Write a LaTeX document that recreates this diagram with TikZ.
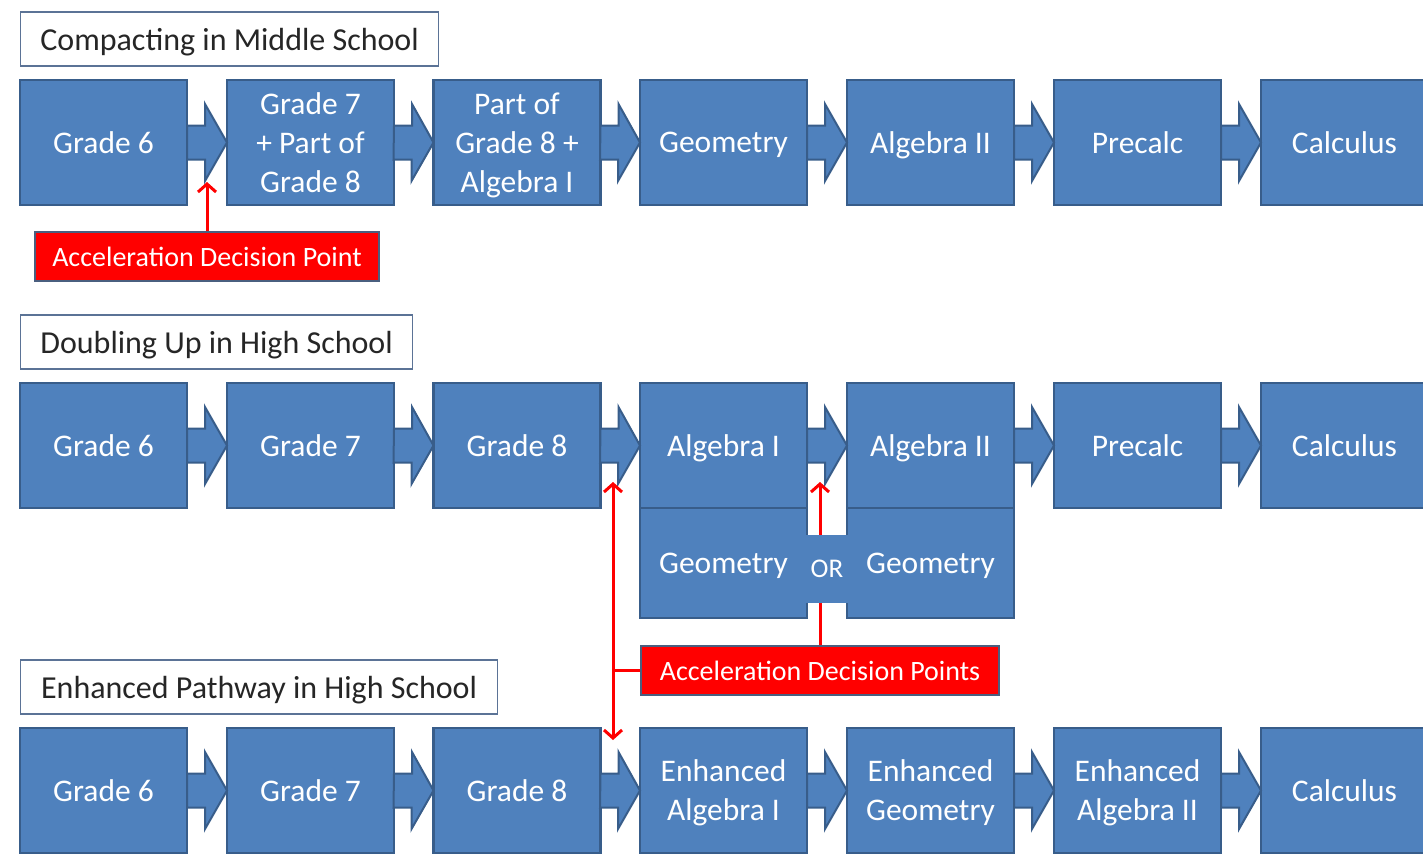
\documentclass[tikz,border=0pt]{standalone}
\usepackage{fontspec}
\setmainfont{Carlito}
\usetikzlibrary{arrows.meta}

\definecolor{coursefill}{HTML}{4F81BD}
\definecolor{courseline}{HTML}{385D8A}
\definecolor{labelline}{HTML}{5B7396}
\definecolor{decisionline}{HTML}{4A5F7F}

\begin{document}
\begin{tikzpicture}[
    x=1pt, y=-1pt,
    course/.style={draw=courseline, fill=coursefill, line width=2.5pt, minimum width=167pt, minimum height=125pt, inner sep=0pt, outer sep=0pt, align=center, text=white, text depth=0pt, font=\fontsize{31.5}{39}\selectfont},
    pathlabel/.style={draw=labelline, line width=1.2pt, fill=white, anchor=west, minimum height=54pt, inner xsep=17pt, text=black!85, text depth=0pt, font=\fontsize{32}{38}\selectfont},
    decision/.style={draw=decisionline, line width=1.2pt, fill=red, text=white, minimum height=49pt, inner sep=0pt, text depth=0pt, font=\fontsize{28}{33}\selectfont},
    orband/.style={fill=coursefill, minimum width=44pt, minimum height=68pt, inner sep=0pt, text=white, font=\fontsize{27}{30}\selectfont},
    chevron/.style={draw=courseline, fill=coursefill, line width=2pt, line join=miter,
        to path={(\tikztostart.east) ++(0,-17) -- ++(18,0) -- ++(0,-21.5) -- (\tikztotarget.west) -- ++(-22,38.5) -- ++(0,-21.5) -- ++(-18,0) -- cycle}},
    decide/.style={->, draw=red, line width=3pt, >={Straight Barb[length=8pt,width=18pt]}}
]
    \useasboundingbox (0,0) rectangle (1423,854);
    \clip (0,0) rectangle (1423,854);

    % Compacting in Middle School
    \node[pathlabel, minimum width=418pt] (lc) at (20,39) {Compacting in Middle School};
    \node[course] (c1) at (103.5,142.5) {Grade 6};
    \node[course] (c2) at (310.5,142.5) {Grade 7\\+ Part of\\Grade 8};
    \node[course] (c3) at (517,142.5) {Part of\\Grade 8 +\\Algebra I};
    \node[course] (c4) at (723.5,142.5) {Geometry};
    \node[course] (c5) at (930.5,142.5) {Algebra II};
    \node[course] (c6) at (1137.5,142.5) {Precalc};
    \node[course] (c7) at (1344.5,142.5) {Calculus};
    \node[decision, minimum width=344pt] (dp1) at (207,256.5) {Acceleration Decision Point};

    % Doubling Up in High School
    \node[pathlabel, minimum width=392pt] (ld) at (20,342) {Doubling Up in High School};
    \node[course] (d1) at (103.5,445.5) {Grade 6};
    \node[course] (d2) at (310.5,445.5) {Grade 7};
    \node[course] (d3) at (517,445.5) {Grade 8};
    \node[course] (d4) at (723.5,445.5) {Algebra I};
    \node[course] (d5) at (930.5,445.5) {Algebra II};
    \node[course] (d6) at (1137.5,445.5) {Precalc};
    \node[course] (d7) at (1344.5,445.5) {Calculus};
    \node[course, minimum height=110pt] (dg1) at (723.5,563) {Geometry};
    \node[course, minimum height=110pt] (dg2) at (930.5,563) {Geometry};
    \node[decision, minimum width=358pt] (dp2) at (820,670.5) {Acceleration Decision Points};

    % Enhanced Pathway in High School
    \node[pathlabel, minimum width=477pt] (le) at (20,687) {Enhanced Pathway in High School};
    \node[course] (e1) at (103.5,790.5) {Grade 6};
    \node[course] (e2) at (310.5,790.5) {Grade 7};
    \node[course] (e3) at (517,790.5) {Grade 8};
    \node[course] (e4) at (723.5,790.5) {Enhanced\\Algebra I};
    \node[course] (e5) at (930.5,790.5) {Enhanced\\Geometry};
    \node[course] (e6) at (1137.5,790.5) {Enhanced\\Algebra II};
    \node[course] (e7) at (1344.5,790.5) {Calculus};

    % Chevrons
    \draw[chevron] (c1) to (c2);
    \draw[chevron] (c2) to (c3);
    \draw[chevron] (c3) to (c4);
    \draw[chevron] (c4) to (c5);
    \draw[chevron] (c5) to (c6);
    \draw[chevron] (c6) to (c7);

    \draw[chevron] (d1) to (d2);
    \draw[chevron] (d2) to (d3);
    \draw[chevron] (d3) to (d4);
    \draw[chevron] (d4) to (d5);
    \draw[chevron] (d5) to (d6);
    \draw[chevron] (d6) to (d7);

    \draw[chevron] (e1) to (e2);
    \draw[chevron] (e2) to (e3);
    \draw[chevron] (e3) to (e4);
    \draw[chevron] (e4) to (e5);
    \draw[chevron] (e5) to (e6);
    \draw[chevron] (e6) to (e7);

    % Decision points
    \coordinate (pointtip) at (207,182);
    \coordinate (ortip) at (820,482);
    \coordinate (uptip) at (613,482);
    \coordinate (downtip) at (613,740);
    \coordinate (branch) at (613,670.5);

    \draw[decide] (dp1) -- (pointtip);
    \draw[decide] (dp2) -- (ortip);
    \draw[decide, <->] (uptip) -- (downtip);
    \draw[decide, -] (dp2) -- (branch);

    % OR link between the two Geometry boxes
    \node[orband] (orgap) at (827,569) {OR};
\end{tikzpicture}
\end{document}
